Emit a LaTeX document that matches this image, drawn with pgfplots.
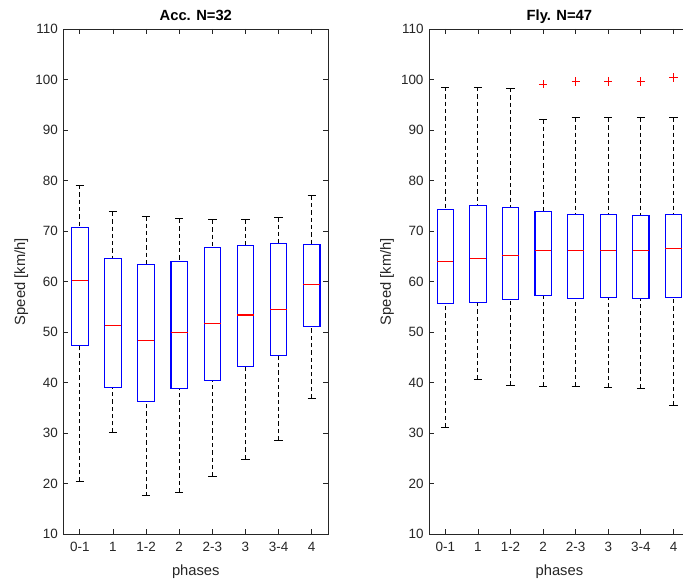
\documentclass[border=0pt]{standalone}
\usepackage{pgfplots}
\pgfplotsset{compat=1.18}
\usepgfplotslibrary{statistics}
\usepackage{fontspec}
\setmainfont{Liberation Sans}
\definecolor{axgray}{rgb}{0.15,0.15,0.15}
\definecolor{mblue}{rgb}{0,0,1}
\definecolor{mred}{rgb}{1,0,0}
\pgfplotsset{
  myaxis/.style={
    scale only axis, height=505.3bp,
    anchor=south west,
    xmin=0.5, xmax=8.5, ymin=10, ymax=110,
    xtick={1,2,3,4,5,6,7,8},
    xticklabels={0-1,1,1-2,2,2-3,3,3-4,4},
    ytick={10,20,30,40,50,60,70,80,90,100,110},
    tick align=inside, major tick length=5bp,
    axis line style={draw=axgray, line width=0.8bp},
    tick style={draw=axgray, line width=0.8bp},
    /pgf/number format/assume math mode=true,
    ticklabel style={font=\fontsize{13.5}{15}\selectfont, text=axgray},
    yticklabel style={xshift=-2bp},
    xticklabel style={yshift=-4bp},
    xlabel={phases}, ylabel={Speed [km/h]},
    every axis y label/.style={at={(axis description cs:0,0.5)}, xshift=-42bp, rotate=90, anchor=center,
      font=\fontsize{14.8}{16}\selectfont, text=axgray},
    every axis x label/.style={at={(axis description cs:0.5,0)}, anchor=base, yshift=-40.7bp,
      font=\fontsize{14.8}{16}\selectfont, text=axgray},
    every axis title/.style={at={(axis description cs:0.5,1)}, anchor=base, yshift=8.3bp,
      font=\fontsize{14.8}{16}\selectfont\bfseries, text=black},
    boxplot/draw direction=y,
  },
  mb/.style={
    draw=mblue, solid, line width=1.1bp, mark=none,
    boxplot/box extend=0.5, boxplot/whisker extend=0.25,
    boxplot/draw/box/.code={
      \draw[draw=mblue, line width=1.1bp, solid]
        (boxplot box cs:\pgfplotsboxplotvalue{lower quartile},0) rectangle
        (boxplot box cs:\pgfplotsboxplotvalue{upper quartile},1);
    },
    boxplot/draw/median/.code={
      \draw[draw=mred, line width=1.1bp, solid]
        (boxplot box cs:\pgfplotsboxplotvalue{median},0) --
        (boxplot box cs:\pgfplotsboxplotvalue{median},1);
    },
    boxplot/draw/lower whisker/.code={
      \draw[draw=black, line width=1bp, dash pattern=on 4.3bp off 3bp]
        (boxplot box cs:\pgfplotsboxplotvalue{lower whisker},0.5) --
        (boxplot box cs:\pgfplotsboxplotvalue{lower quartile},0.5);
      \draw[draw=black, line width=1bp, solid]
        (boxplot whisker cs:\pgfplotsboxplotvalue{lower whisker},0) --
        (boxplot whisker cs:\pgfplotsboxplotvalue{lower whisker},1);
    },
    boxplot/draw/upper whisker/.code={
      \draw[draw=black, line width=1bp, dash pattern=on 4.3bp off 3bp]
        (boxplot box cs:\pgfplotsboxplotvalue{upper whisker},0.5) --
        (boxplot box cs:\pgfplotsboxplotvalue{upper quartile},0.5);
      \draw[draw=black, line width=1bp, solid]
        (boxplot whisker cs:\pgfplotsboxplotvalue{upper whisker},0) --
        (boxplot whisker cs:\pgfplotsboxplotvalue{upper whisker},1);
    },
  },
}
\begin{document}
\begin{tikzpicture}
\useasboundingbox (0,0) rectangle (683bp,582bp);
\fill[white] (0,0) rectangle (683bp,582bp);
\clip (0,0) rectangle (683bp,582bp);
% ---------------- left panel
\begin{axis}[myaxis, width=265bp, at={(63.3bp,47.7bp)}, title={Acc. N=32}]
\addplot[mb, boxplot prepared={draw position=1, lower whisker=20.4, lower quartile=47.4, median=60.2, upper quartile=70.65, upper whisker=79.1}] coordinates {};
\addplot[mb, boxplot prepared={draw position=2, lower whisker=30.1, lower quartile=39.1, median=51.4, upper quartile=64.5, upper whisker=73.8}] coordinates {};
\addplot[mb, boxplot prepared={draw position=3, lower whisker=17.6, lower quartile=36.25, median=48.4, upper quartile=63.4, upper whisker=72.95}] coordinates {};
\addplot[mb, boxplot prepared={draw position=4, lower whisker=18.3, lower quartile=38.9, median=49.9, upper quartile=63.9, upper whisker=72.4}] coordinates {};
\addplot[mb, boxplot prepared={draw position=5, lower whisker=21.45, lower quartile=40.5, median=51.7, upper quartile=66.75, upper whisker=72.2}] coordinates {};
\addplot[mb, boxplot prepared={draw position=6, lower whisker=24.9, lower quartile=43.2, median=53.4, upper quartile=67.15, upper whisker=72.35}] coordinates {};
\addplot[mb, boxplot prepared={draw position=7, lower whisker=28.6, lower quartile=45.3, median=54.4, upper quartile=67.5, upper whisker=72.75}] coordinates {};
\addplot[mb, boxplot prepared={draw position=8, lower whisker=36.9, lower quartile=51.2, median=59.4, upper quartile=67.3, upper whisker=76.97}] coordinates {};
\end{axis}
% ---------------- right panel
\begin{axis}[myaxis, width=260.8bp, at={(429bp,47.7bp)}, title={Fly. N=47}]
\addplot[mb, boxplot prepared={draw position=1, lower whisker=31.2, lower quartile=55.7, median=64.0, upper quartile=74.3, upper whisker=98.5}] coordinates {};
\addplot[mb, boxplot prepared={draw position=2, lower whisker=40.65, lower quartile=55.85, median=64.5, upper quartile=75.1, upper whisker=98.5}] coordinates {};
\addplot[mb, boxplot prepared={draw position=3, lower whisker=39.5, lower quartile=56.4, median=65.2, upper quartile=74.7, upper whisker=98.3}] coordinates {};
\addplot[mb, boxplot prepared={draw position=4, lower whisker=39.2, lower quartile=57.3, median=66.1, upper quartile=73.9, upper whisker=92.1}] coordinates {};
\addplot[mb, boxplot prepared={draw position=5, lower whisker=39.3, lower quartile=56.7, median=66.1, upper quartile=73.35, upper whisker=92.4}] coordinates {};
\addplot[mb, boxplot prepared={draw position=6, lower whisker=39.1, lower quartile=56.8, median=66.1, upper quartile=73.2, upper whisker=92.4}] coordinates {};
\addplot[mb, boxplot prepared={draw position=7, lower whisker=38.9, lower quartile=56.6, median=66.1, upper quartile=73.15, upper whisker=92.4}] coordinates {};
\addplot[mb, boxplot prepared={draw position=8, lower whisker=35.5, lower quartile=56.85, median=66.5, upper quartile=73.3, upper whisker=92.4}] coordinates {};
% outliers
\addplot[color=mred, only marks, mark=+, mark size=4.2bp, mark options={draw=mred, solid, line width=1.1bp}]
  coordinates {(4,99.06) (5,99.6) (6,99.6) (7,99.6) (8,100.4)};
\end{axis}
\end{tikzpicture}
\end{document}
